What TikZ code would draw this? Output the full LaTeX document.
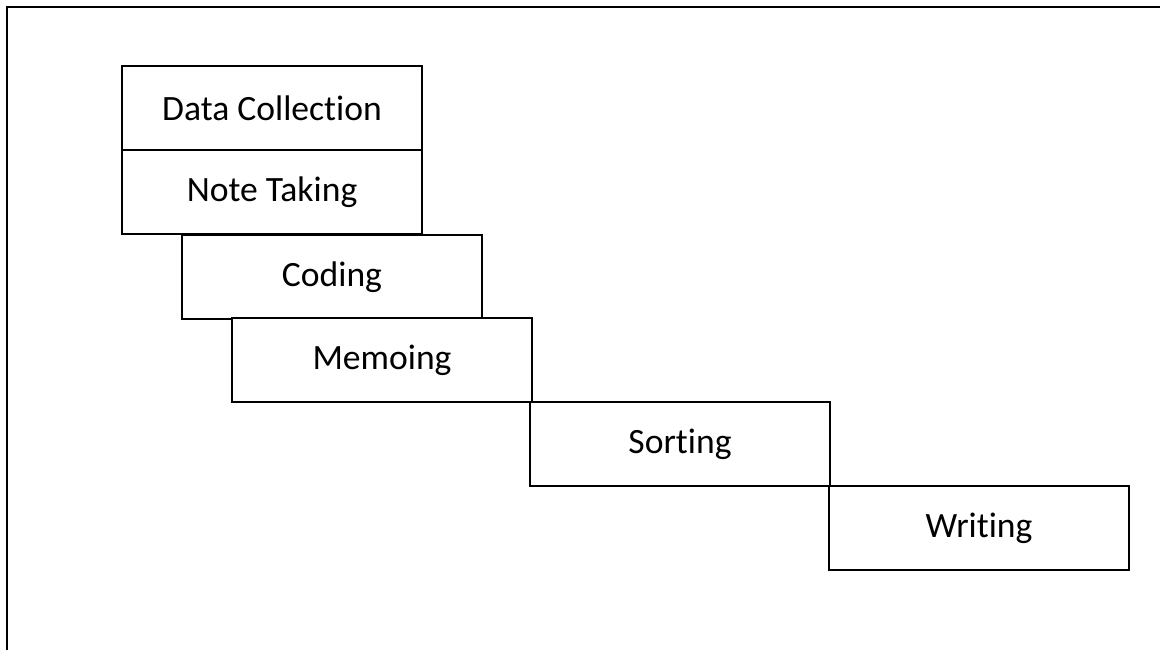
\documentclass[tikz,border=0pt]{standalone}
\usepackage{fontspec}
\setmainfont{Carlito}[RawFeature=-liga]
\usepackage{tikz}
\usetikzlibrary{positioning}

\begin{document}
\begin{tikzpicture}[
    x=0.5pt, y=-0.5pt,
    font=\fontsize{17.8}{21}\selectfont,
    stage/.style={draw=black, line width=1.4pt, fill=white,
                  minimum width=150pt, minimum height=42pt,
                  inner sep=0pt, outer sep=0pt, anchor=north west,
                  align=center},
    frame/.style={line width=1.4pt, black},
]
\useasboundingbox (0,0) rectangle (1160,650);

% --- outer frame (only top and left edges show) ---
\draw[frame] (7,650) -- (7,7) -- (1160,7);

% --- the staircase of stages ---
\node[stage] (collect) at (122,66)  {Data Collection};
\node[stage, below=0pt of collect] (notes) {Note Taking};
\node[stage] (coding)  at (182,235) {Coding};
\node[stage] (memo)    at (232,318) {Memoing};
\node[stage] (sorting) at (530,402) {Sorting};
\node[stage] (writing) at (829,486) {Writing};
\end{tikzpicture}
\end{document}
